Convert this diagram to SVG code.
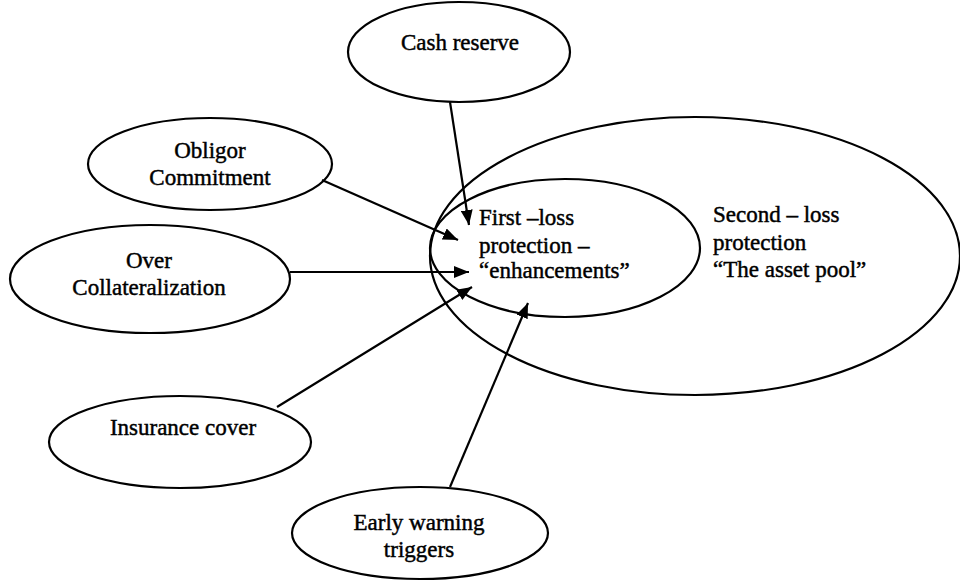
<svg xmlns="http://www.w3.org/2000/svg" width="960" height="581" viewBox="0 0 960 581">
<style>
  .shape { fill: none; stroke: #000; stroke-width: 2.2; }
  .lbl { font-family: "Liberation Serif", "Times New Roman", serif; font-size: 23px; fill: #000; stroke: #000; stroke-width: 0.45; }
  .mid { text-anchor: middle; }
  .conn { stroke: #000; stroke-width: 2.2; fill: none; marker-end: url(#arrow); }
</style>
<defs>
  <marker id="arrow" markerUnits="userSpaceOnUse" markerWidth="16" markerHeight="12" viewBox="0 0 16 12" refX="15" refY="6" orient="auto">
    <path d="M0,0 L15,6 L0,12 Z" fill="#000"/>
  </marker>
</defs>
<rect width="960" height="581" fill="#fff"/>

<g id="second-loss">
  <ellipse class="shape" cx="695" cy="256" rx="265" ry="139"/>
  <text class="lbl" x="713" y="222">Second – loss</text>
  <text class="lbl" x="713" y="250">protection</text>
  <text class="lbl" x="713" y="277">“The asset pool”</text>
</g>

<g id="first-loss">
  <ellipse class="shape" cx="565" cy="248" rx="135" ry="69"/>
  <text class="lbl" x="479" y="225">First –loss</text>
  <text class="lbl" x="479" y="253">protection –</text>
  <text class="lbl" x="479" y="278">“enhancements”</text>
</g>

<g id="cash-reserve">
  <ellipse class="shape" cx="459" cy="52" rx="111" ry="50"/>
  <text class="lbl mid" x="460" y="50">Cash reserve</text>
</g>

<g id="obligor-commitment">
  <ellipse class="shape" cx="210" cy="164" rx="122" ry="46"/>
  <text class="lbl mid" x="210" y="158">Obligor</text>
  <text class="lbl mid" x="210" y="185">Commitment</text>
</g>

<g id="over-collateralization">
  <ellipse class="shape" cx="150" cy="279" rx="140" ry="54"/>
  <text class="lbl mid" x="149" y="268">Over</text>
  <text class="lbl mid" x="149" y="295">Collateralization</text>
</g>

<g id="insurance-cover">
  <ellipse class="shape" cx="180" cy="442" rx="131" ry="46"/>
  <text class="lbl mid" x="183" y="435">Insurance cover</text>
</g>

<g id="early-warning">
  <ellipse class="shape" cx="420" cy="533" rx="128" ry="46"/>
  <text class="lbl mid" x="419" y="530">Early warning</text>
  <text class="lbl mid" x="419" y="557">triggers</text>
</g>

<g id="connectors">
  <line class="conn" x1="450" y1="102" x2="469" y2="225"/>
  <line class="conn" x1="322" y1="180" x2="458" y2="240"/>
  <line class="conn" x1="290" y1="272" x2="469" y2="272"/>
  <line class="conn" x1="277" y1="407" x2="472" y2="287"/>
  <line class="conn" x1="450" y1="487" x2="528" y2="303"/>
</g>
</svg>
